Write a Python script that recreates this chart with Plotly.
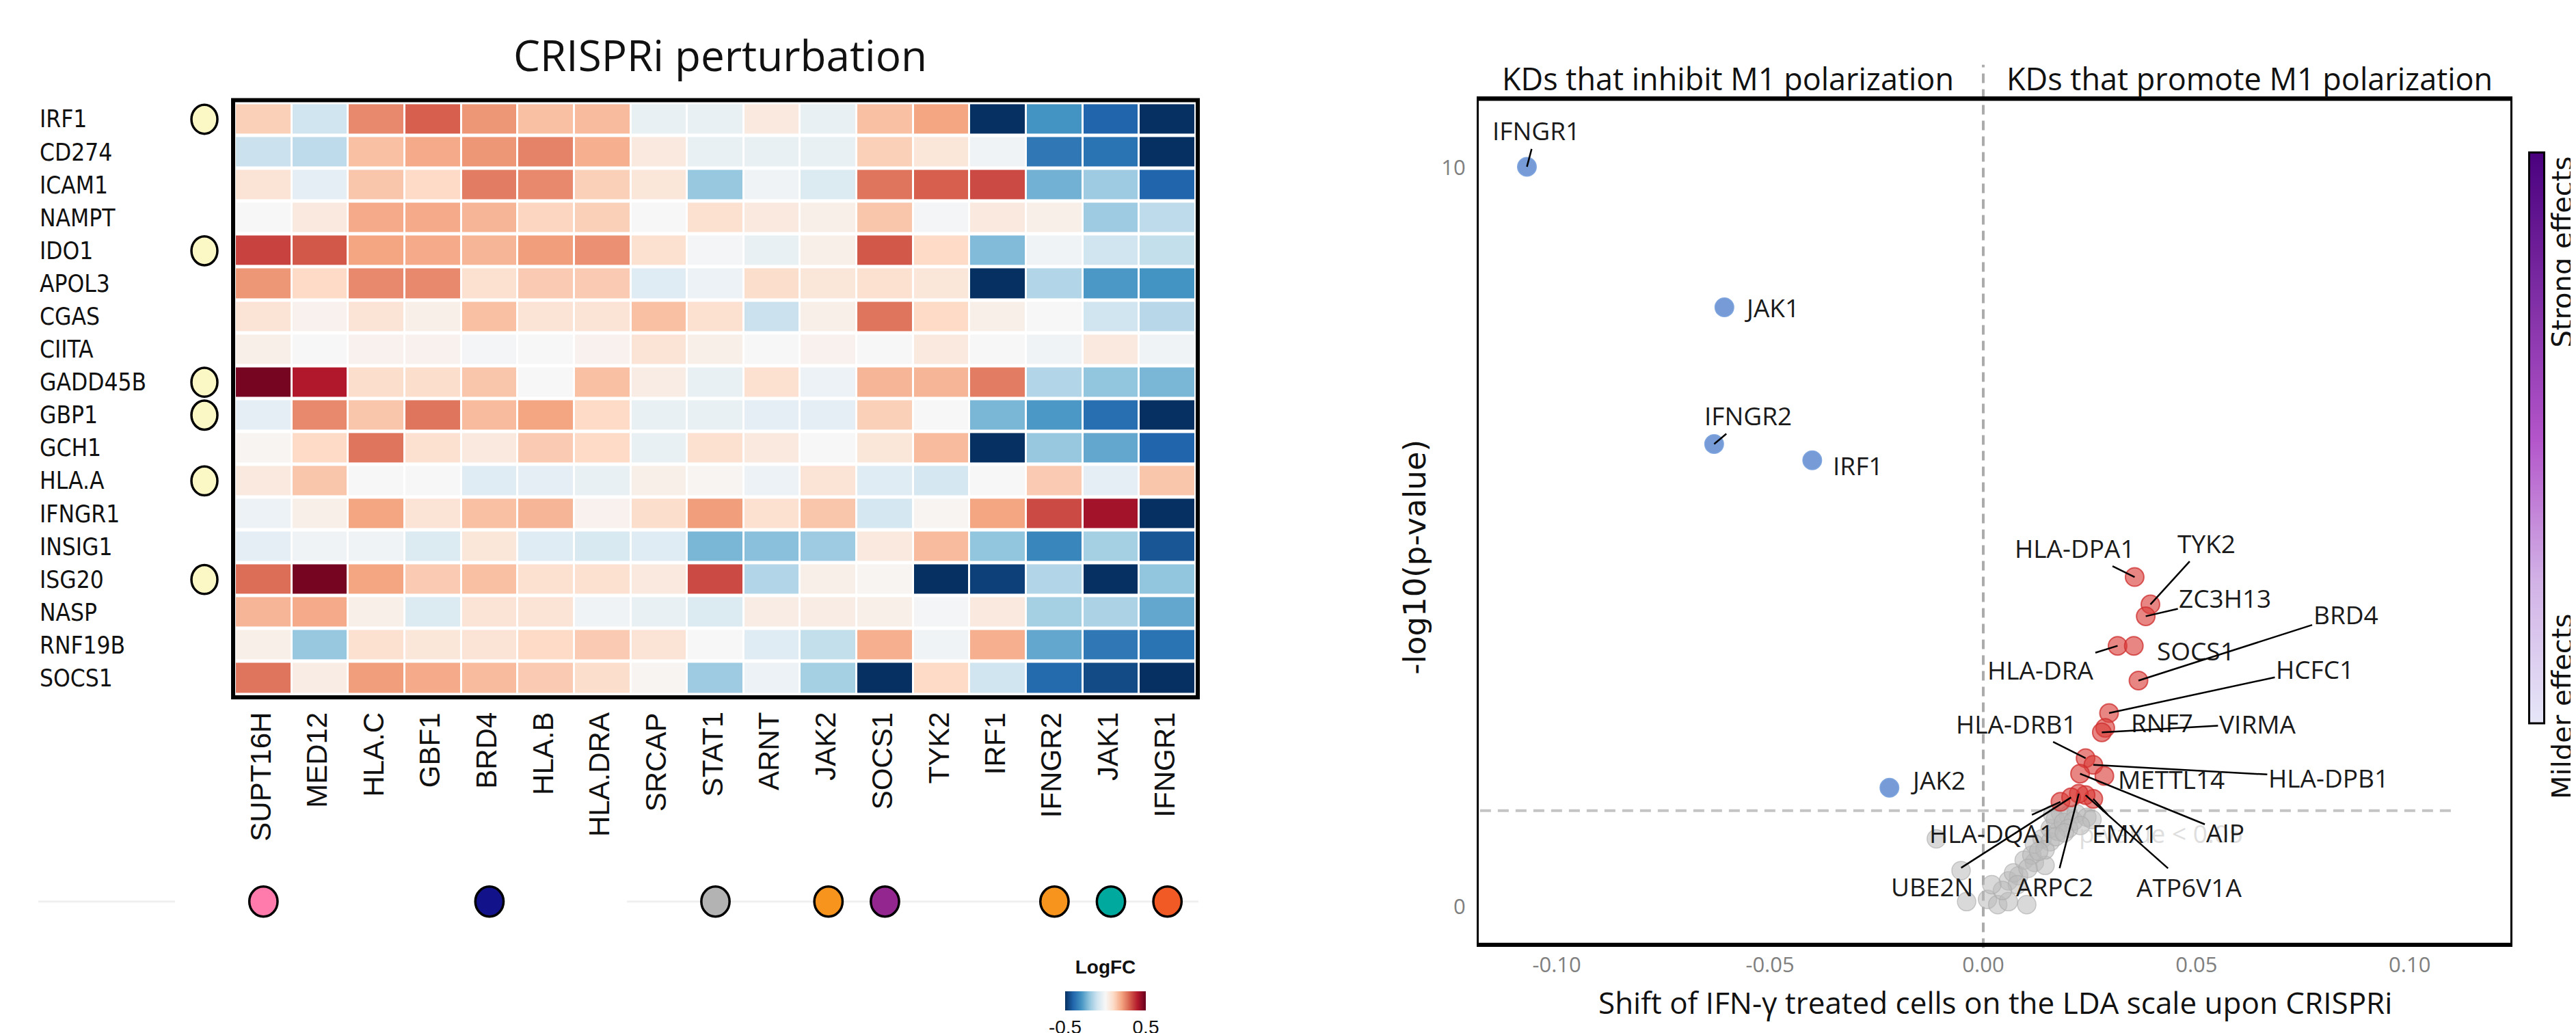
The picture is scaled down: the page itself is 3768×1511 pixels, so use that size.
import numpy as np
import plotly.graph_objects as go

W, H = 3768, 1511

# ---------------- heatmap data ----------------
rows = ['IRF1', 'CD274', 'ICAM1', 'NAMPT', 'IDO1', 'APOL3', 'CGAS', 'CIITA', 'GADD45B',
        'GBP1', 'GCH1', 'HLA.A', 'IFNGR1', 'INSIG1', 'ISG20', 'NASP', 'RNF19B', 'SOCS1']
cols = ['SUPT16H', 'MED12', 'HLA.C', 'GBF1', 'BRD4', 'HLA.B', 'HLA.DRA', 'SRCAP', 'STAT1',
        'ARNT', 'JAK2', 'SOCS1', 'TYK2', 'IRF1', 'IFNGR2', 'JAK1', 'IFNGR1']
logfc = [
    [0.12, -0.10, 0.24, 0.30, 0.22, 0.15, 0.16, -0.04, -0.04, 0.05, -0.04, 0.15, 0.20, -0.50, -0.30, -0.40, -0.50],
    [-0.11, -0.13, 0.15, 0.19, 0.22, 0.25, 0.18, 0.05, -0.04, -0.04, -0.04, 0.12, 0.06, -0.02, -0.36, -0.37, -0.50],
    [0.07, -0.05, 0.14, 0.10, 0.26, 0.24, 0.12, 0.06, -0.19, -0.02, -0.07, 0.27, 0.30, 0.33, -0.24, -0.18, -0.40],
    [0.00, 0.05, 0.19, 0.19, 0.17, 0.11, 0.12, 0.00, 0.08, 0.05, 0.03, 0.14, -0.01, 0.05, 0.03, -0.18, -0.13],
    [0.34, 0.31, 0.20, 0.19, 0.17, 0.21, 0.23, 0.08, -0.01, -0.04, 0.03, 0.31, 0.10, -0.22, -0.02, -0.10, -0.12],
    [0.22, 0.10, 0.24, 0.24, 0.08, 0.13, 0.13, -0.06, -0.03, 0.09, 0.06, 0.08, 0.06, -0.50, -0.15, -0.29, -0.30],
    [0.07, 0.02, 0.07, 0.03, 0.15, 0.07, 0.07, 0.15, 0.08, -0.11, 0.03, 0.27, 0.10, 0.03, 0.00, -0.10, -0.14],
    [0.03, 0.00, 0.02, 0.02, -0.01, 0.00, 0.02, 0.07, 0.03, 0.00, 0.02, 0.00, 0.05, 0.00, -0.02, 0.05, -0.02],
    [0.48, 0.40, 0.09, 0.09, 0.14, 0.00, 0.15, 0.04, -0.04, 0.08, -0.03, 0.17, 0.17, 0.26, -0.15, -0.20, -0.23],
    [-0.05, 0.24, 0.14, 0.27, 0.16, 0.20, 0.10, -0.04, -0.04, -0.05, -0.05, 0.12, 0.00, -0.23, -0.29, -0.38, -0.50],
    [0.01, 0.10, 0.27, 0.08, 0.05, 0.13, 0.10, -0.04, 0.08, 0.05, 0.00, 0.06, 0.16, -0.50, -0.19, -0.26, -0.40],
    [0.05, 0.14, 0.00, 0.00, -0.06, -0.05, -0.04, 0.03, 0.01, -0.03, 0.07, -0.06, -0.09, 0.00, 0.13, -0.05, 0.14],
    [-0.03, 0.03, 0.20, 0.07, 0.15, 0.17, 0.02, 0.09, 0.21, 0.08, 0.14, -0.09, 0.01, 0.20, 0.33, 0.42, -0.50],
    [-0.05, -0.02, -0.02, -0.07, 0.06, -0.06, -0.08, -0.06, -0.23, -0.21, -0.18, 0.05, 0.16, -0.20, -0.33, -0.17, -0.43],
    [0.28, 0.48, 0.20, 0.13, 0.15, 0.08, 0.08, 0.05, 0.33, -0.15, 0.03, 0.01, -0.50, -0.47, -0.15, -0.50, -0.20],
    [0.17, 0.19, 0.03, -0.07, 0.07, 0.07, -0.02, -0.04, -0.07, 0.04, 0.04, 0.03, -0.01, 0.05, -0.17, -0.16, -0.26],
    [0.03, -0.19, 0.08, 0.06, 0.07, 0.10, 0.13, 0.07, 0.00, -0.06, -0.12, 0.18, -0.02, 0.18, -0.26, -0.36, -0.37],
    [0.27, 0.04, 0.21, 0.19, 0.16, 0.13, 0.09, 0.01, -0.18, -0.03, -0.17, -0.50, 0.10, -0.10, -0.39, -0.45, -0.50],
]
marked_rows = ['IRF1', 'IDO1', 'GADD45B', 'GBP1', 'HLA.A', 'ISG20']
dot_cols = ['SUPT16H', 'BRD4', 'STAT1', 'JAK2', 'SOCS1', 'IFNGR2', 'JAK1', 'IFNGR1']
dot_colors = ['#FF7BAC', '#12128A', '#B3B3B3', '#F7941D', '#93278F', '#F7941D', '#00A99D', '#F15A24']
cbar_ticks = [-0.5, 0.5]

# ---------------- volcano data ----------------
blue_names = ['IFNGR1', 'JAK1', 'IFNGR2', 'IRF1', 'JAK2']
blue_x = [-0.1070, -0.0607, -0.0631, -0.0401, -0.0220]
blue_y = [10.01, 8.11, 6.26, 6.04, 1.61]

red_names = ['HLA-DPA1', 'TYK2', 'ZC3H13', 'HLA-DRA', 'SOCS1', 'BRD4', 'HCFC1', 'RNF7', 'VIRMA',
             'HLA-DRB1', 'HLA-DPB1', 'METTL14', 'AIP', 'EMX1', 'ATP6V1A', 'ARPC2', 'HLA-DQA1', 'UBE2N']
red_x = [0.0355, 0.0392, 0.0381, 0.0315, 0.0353, 0.0364, 0.0295, 0.0286, 0.0278,
         0.0240, 0.0258, 0.0284, 0.0227, 0.0258, 0.0240, 0.0224, 0.0181, 0.0206]
red_y = [4.46, 4.09, 3.93, 3.53, 3.53, 3.06, 2.62, 2.42, 2.36,
         2.01, 1.92, 1.77, 1.80, 1.46, 1.51, 1.53, 1.42, 1.48]

gray_x = [-0.0110, -0.0052, -0.0039, 0.0010, 0.0034, 0.0059, 0.0102, 0.0059, 0.0083, 0.0071,
          0.0096, 0.0120, 0.0145, 0.0114, 0.0138, 0.0120, 0.0157, 0.0145, 0.0157, 0.0175,
          0.0163, 0.0181, 0.0200, 0.0218, 0.0169, 0.0188, 0.0212, 0.0243, 0.0255, 0.0200,
          0.0130, 0.0105, 0.0080, 0.0045, 0.0020, 0.0170, 0.0190, 0.0228]
gray_y = [0.92, 0.49, 0.07, 0.10, 0.03, 0.07, 0.03, 0.35, 0.42, 0.46,
          0.63, 0.60, 0.56, 0.70, 0.92, 0.85, 0.88, 0.77, 1.06, 1.02,
          1.25, 1.27, 1.24, 1.26, 1.18, 1.14, 1.16, 1.21, 1.18, 1.06,
          0.75, 0.52, 0.30, 0.22, 0.30, 0.95, 1.00, 1.10]

x_ticks = [-0.10, -0.05, 0.00, 0.05, 0.10]
y_ticks = [0, 10]
p_threshold = 0.05

# label placement (pixel offsets of the text from its point) and whether a segment is drawn
label_offsets = {
    'IFNGR1': (14, -53, True), 'JAK1': (70, 0, False), 'IFNGR2': (50, -42, True),
    'IRF1': (67, 7, False), 'JAK2': (71, -12, False),
    'HLA-DPA1': (-87, -43, True), 'TYK2': (82, -90, True), 'ZC3H13': (116, -27, True),
    'SOCS1': (91, 7, False), 'HLA-DRA': (-112, 35, True), 'BRD4': (303, -97, True),
    'HCFC1': (301, -65, True), 'RNF7': (83, -8, False), 'VIRMA': (228, -13, True),
    'HLA-DRB1': (-101, -51, True), 'HLA-DPB1': (344, 19, True), 'METTL14': (98, 5, False),
    'AIP': (212, 86, True), 'EMX1': (46, 50, True), 'ATP6V1A': (151, 134, True),
    'ARPC2': (-35, 136, True), 'HLA-DQA1': (-101, 46, True), 'UBE2N': (-203, 130, True),
}


def px(p):
    return p / W


def py(p):
    return 1 - p / H


rdbu = ['#053061', '#2166ac', '#4393c3', '#92c5de', '#d1e5f0', '#f7f7f7',
        '#fddbc7', '#f4a582', '#d6604d', '#b2182b', '#67001f']
rdbu_scale = [[i / 10, c] for i, c in enumerate(rdbu)]
purple_scale = [[0, '#E6E6F8'], [0.25, '#D2B2E6'], [0.5, '#B354CA'], [0.75, '#7E2DA4'], [1, '#4A007E']]

ARIAL = 'Liberation Sans, Arial, sans-serif'
NARROW = 'Liberation Sans Narrow, Arial Narrow, DejaVu Sans Condensed, Liberation Sans, sans-serif'
OPEN = 'Open Sans, Noto Sans, sans-serif'
DEJA = 'DejaVu Sans, Verdana, sans-serif'

HM_TOP, HM_BOT = 143, 1012      # pixel extent of heatmap rows
HM_L, HM_R = 336, 1741

fig = go.Figure()

fig.add_trace(go.Heatmap(
    z=logfc, x=cols, y=rows, colorscale=rdbu_scale, zmin=-0.5, zmax=0.5,
    xgap=3, ygap=5, xaxis='x', yaxis='y',
    colorbar=dict(orientation='h', x=px(1609), xanchor='center', y=py(1462), yanchor='middle',
                  lenmode='pixels', len=138, thickness=28, outlinewidth=0,
                  tickvals=cbar_ticks, ticktext=[str(v) for v in cbar_ticks],
                  ticks='inside', ticklen=7, tickcolor='white', tickwidth=2,
                  tickfont=dict(family=ARIAL, size=28, color='#111'),
                  title=dict(text='<b>LogFC</b>', side='top', font=dict(family=ARIAL, size=28, color='#111'))),
))

fig.add_trace(go.Scatter(x=gray_x, y=gray_y, mode='markers', xaxis='x2', yaxis='y2',
                         marker=dict(size=27, color='rgba(185,185,185,0.55)',
                                     line=dict(width=1.5, color='rgba(170,170,170,0.6)')),
                         showlegend=False))
fig.add_trace(go.Scatter(x=red_x, y=red_y, mode='markers', xaxis='x2', yaxis='y2',
                         marker=dict(size=27, color='rgba(218,60,55,0.62)',
                                     line=dict(width=2, color='rgba(205,45,45,0.75)')),
                         showlegend=False))
fig.add_trace(go.Scatter(x=blue_x, y=blue_y, mode='markers', xaxis='x2', yaxis='y2',
                         marker=dict(size=27, color='rgba(88,133,206,0.82)',
                                     line=dict(width=2, color='rgba(120,160,220,0.9)')),
                         showlegend=False))
# purple colorbar legend
fig.add_trace(go.Scatter(x=[None], y=[None], mode='markers', xaxis='x2', yaxis='y2', showlegend=False,
                         marker=dict(color=[0], cmin=0, cmax=1, colorscale=purple_scale, showscale=True,
                                     colorbar=dict(x=px(3704), xanchor='center', y=py(635), yanchor='middle',
                                                   lenmode='pixels', len=855, thickness=22,
                                                   outlinewidth=3, outlinecolor='black',
                                                   showticklabels=False, ticks=''))))

fig.update_layout(
    width=W, height=H, margin=dict(l=0, r=0, t=0, b=0),
    paper_bgcolor='white', plot_bgcolor='white', showlegend=False,
    xaxis=dict(domain=[px(HM_L), px(HM_R)], anchor='y', showticklabels=False, showgrid=False,
               zeroline=False, ticks='', type='category'),
    yaxis=dict(domain=[py(HM_BOT), py(HM_TOP)], anchor='x', showticklabels=False, showgrid=False,
               zeroline=False, ticks='', type='category', autorange='reversed'),
    xaxis2=dict(domain=[px(2155), px(3664)], anchor='y2', range=[-0.1183, 0.1236],
                showgrid=False, zeroline=False, showline=True, mirror=True, linecolor='black',
                linewidth=3, ticks='', tickvals=x_ticks, ticktext=['%.2f' % v for v in x_ticks],
                tickfont=dict(family=OPEN, size=31, color='#808080'), ticklabelstandoff=0),
    yaxis2=dict(domain=[py(1379), py(137)], anchor='x2', range=[-0.51, 10.93],
                showgrid=False, zeroline=False, showline=True, mirror=True, linecolor='black',
                linewidth=3, ticks='', tickvals=y_ticks, ticktext=[str(v) for v in y_ticks],
                tickfont=dict(family=OPEN, size=31, color='#808080'), ticklabelstandoff=10),
)

shapes = []
# faint baseline strokes at the group dot level
shapes.append(dict(type='line', xref='paper', yref='paper', x0=px(48), x1=px(248), y0=py(1316), y1=py(1316),
                   line=dict(color='#f0f0f0', width=3), layer='below'))
shapes.append(dict(type='line', xref='paper', yref='paper', x0=px(909), x1=px(1745), y0=py(1316), y1=py(1316),
                   line=dict(color='#f0f0f0', width=3), layer='below'))
# heatmap frame
shapes.append(dict(type='rect', xref='paper', yref='paper', x0=px(HM_L - 3), x1=px(HM_R + 3),
                   y0=py(HM_BOT + 4), y1=py(HM_TOP - 4), line=dict(color='black', width=6)))
# row marker circles
for r in marked_rows:
    i = rows.index(r)
    shapes.append(dict(type='circle', xref='paper', yref='y', x0=px(272), x1=px(310), y0=i - 0.44, y1=i + 0.44,
                       fillcolor='#FBF8C6', line=dict(color='black', width=3.5)))
# column group dots
for c, colr in zip(dot_cols, dot_colors):
    j = cols.index(c)
    shapes.append(dict(type='circle', xref='x', yref='paper', x0=j - 0.25, x1=j + 0.25, y0=py(1338), y1=py(1294),
                       fillcolor=colr, line=dict(color='black', width=3.5)))
# volcano guides
shapes.append(dict(type='line', xref='x2', yref='paper', x0=0, x1=0, y0=py(1384), y1=py(87),
                   line=dict(color='#ababab', width=4, dash='14px,9px'), layer='below'))
thr = -np.log10(p_threshold)
shapes.append(dict(type='line', xref='x2', yref='y2', x0=-0.118, x1=0.1107, y0=thr, y1=thr,
                   line=dict(color='#c4c4c4', width=4, dash='16px,10px'), layer='below'))
shapes.append(dict(type='line', xref='paper', yref='paper', x0=px(2155), x1=px(3664), y0=py(137), y1=py(137),
                   line=dict(color='black', width=6)))
shapes.append(dict(type='line', xref='paper', yref='paper', x0=px(2155), x1=px(3664), y0=py(1379), y1=py(1379),
                   line=dict(color='black', width=5)))

ann = []


def text(t, x, y, size, family, angle=0, color='#111', xanchor='center', yanchor='middle'):
    return dict(text=t, xref='paper', yref='paper', x=px(x), y=py(y), showarrow=False, textangle=angle,
                xanchor=xanchor, yanchor=yanchor, font=dict(family=family, size=size, color=color))


ann.append(text('CRISPRi perturbation', 1045, 72, 62, OPEN))
for r in rows:
    ann.append(dict(text=r, xref='paper', yref='y', x=px(48), y=r, xanchor='left', yanchor='middle',
                    showarrow=False, font=dict(family=NARROW, size=35, color='#111')))
for c in cols:
    ann.append(dict(text=c, xref='x', yref='paper', x=c, y=py(1036), xanchor='center', yanchor='top',
                    textangle=-90, showarrow=False, xshift=-4, font=dict(family=ARIAL, size=42, color='#111')))

# volcano texts
ann.append(text('KDs that inhibit M1 polarization', 2519, 107, 45, OPEN))
ann.append(text('KDs that promote M1 polarization', 3282, 107, 45, OPEN))
ann.append(text('Shift of IFN-γ treated cells on the LDA scale upon CRISPRi', 2910, 1464, 44, OPEN))
ann.append(text('-log10(p-value)', 2062, 810, 45, DEJA, angle=-90))
ann.append(text('Strong effects', 3740, 362, 40, DEJA, angle=-90))
ann.append(text('Milder effects', 3740, 1030, 40, DEJA, angle=-90))
ann.append(dict(text='p-value < 0.05', xref='x2', yref='y2', x=0.0417, y=1.0, showarrow=False,
                xanchor='center', yanchor='middle',
                font=dict(family=OPEN, size=37, color='rgba(200,200,200,0.6)')))

for names, xs, ys in ((blue_names, blue_x, blue_y), (red_names, red_x, red_y)):
    for n, x, y in zip(names, xs, ys):
        ax, ay, seg = label_offsets[n]
        ann.append(dict(text=n, xref='x2', yref='y2', x=x, y=y, ax=ax, ay=ay, showarrow=True,
                        arrowhead=0, arrowwidth=2.5, standoff=0,
                        arrowcolor='black' if seg else 'rgba(0,0,0,0)',
                        font=dict(family=OPEN, size=37, color='#1a1a1a')))

fig.update_layout(shapes=shapes, annotations=ann)
fig.write_html('out.html')
